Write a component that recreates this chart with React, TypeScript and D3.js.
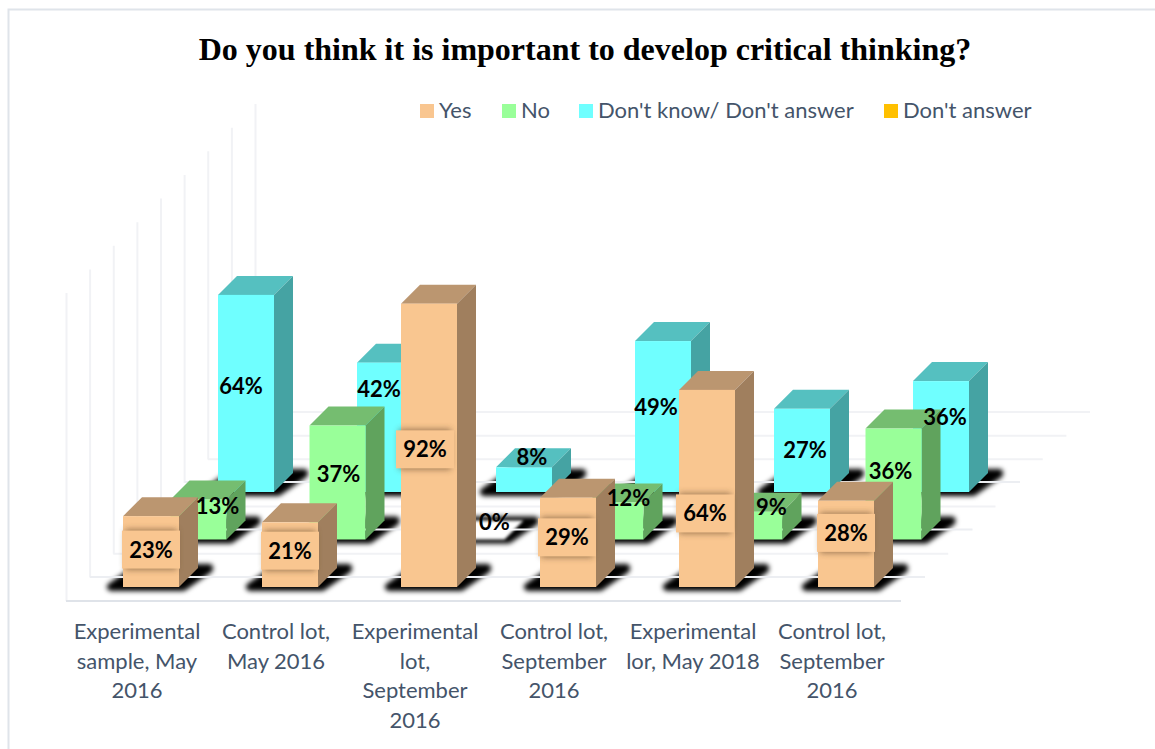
import React from "react";
import * as d3 from "d3";

// Survey answers per group, in percent
const categories: string[][] = [
  ["Experimental", "sample, May", "2016"],
  ["Control lot,", "May 2016"],
  ["Experimental", "lot,", "September", "2016"],
  ["Control lot,", "September", "2016"],
  ["Experimental", "lor, May 2018"],
  ["Control lot,", "September", "2016"],
];
const yesValues = [23, 21, 92, 29, 64, 28];
const noValues = [13, 37, 0, 12, 9, 36];
const unknownValues = [64, 42, 8, 49, 27, 36];
const legendNames = ["Yes", "No", "Don't know/ Don't answer", "Don't answer"];

// Label offsets from the centre of each bar's front face
const yesLabelShift = [[0, -2], [0, -4], [-4, 4], [-1, -5], [-2, 25], [0, -11]];
const noLabelShift = [[19, -13], [1, -9], [18, -18], [13, -23], [17, -19], [-3, -13]];
const unknownLabelShift = [[-5, -7], [-6, -38], [8, -23], [-7, -10], [3, 0], [4, -20]];

const palette = {
  yes: { front: "#f9c690", top: "#bb9670", side: "#a07f5e" },
  no: { front: "#99ff99", top: "#75bd70", side: "#60a35d" },
  unknown: { front: "#6fffff", top: "#55c0c0", side: "#45a3a3" },
};

const rows = [
  { key: "unknown", values: unknownValues, colors: palette.unknown, shift: unknownLabelShift, boxed: false },
  { key: "no", values: noValues, colors: palette.no, shift: noLabelShift, boxed: false },
  { key: "yes", values: yesValues, colors: palette.yes, shift: yesLabelShift, boxed: true },
];

const BAR_W = 56;
const DEPTH = 19;
const BASE_Y = 587;

const xScale = d3.scalePoint<number>().domain(d3.range(6)).range([123, 818]);
const rowScale = d3.scalePoint<string>().domain(["yes", "no", "unknown"]).range([0, 95]);
const heightScale = d3.scaleLinear().domain([0, 100]).range([0, 308]);
const gridIndex = d3.scaleLinear().domain([0, 8]).range([0, 189]);

const pts = (p: number[][]) => p.map((q) => q.join(",")).join(" ");

const labelFont = "Lato, 'Noto Sans', sans-serif";

// Soft, rounded floor shadow following the bar's footprint
function Shadow({ x, base }: { x: number; base: number }) {
  return (
    <polygon
      points={pts([
        [x - 12, base],
        [x + BAR_W + 4, base],
        [x + BAR_W + DEPTH + 11, base - DEPTH + 1],
        [x + BAR_W + DEPTH + 11, base - DEPTH],
        [x + DEPTH - 4, base - DEPTH],
      ])}
      fill="#000"
      stroke="#000"
      strokeWidth={8}
      strokeLinejoin="round"
      filter="url(#floorHaze)"
    />
  );
}

function Bar({ x, base, value, colors }: { x: number; base: number; value: number; colors: { front: string; top: string; side: string } }) {
  const h = heightScale(value);
  const top = base - h;
  if (value === 0) {
    // An empty bar leaves only its pale footprint inside the shadow
    return (
      <polygon
        fill="#fff"
        filter="url(#softEdge)"
        points={pts([
          [x, base],
          [x + BAR_W, base],
          [x + BAR_W + DEPTH, base - DEPTH],
          [x + DEPTH, base - DEPTH],
        ])}
      />
    );
  }
  return (
    <g>
      <polygon
        fill={colors.top}
        points={pts([
          [x, top],
          [x + BAR_W, top],
          [x + BAR_W + DEPTH, top - DEPTH],
          [x + DEPTH, top - DEPTH],
        ])}
      />
      <polygon
        fill={colors.side}
        points={pts([
          [x + BAR_W, top],
          [x + BAR_W + DEPTH, top - DEPTH],
          [x + BAR_W + DEPTH, base - DEPTH],
          [x + BAR_W, base],
        ])}
      />
      <rect x={x} y={top} width={BAR_W} height={h} fill={colors.front} />
    </g>
  );
}

export default function App() {
  const legendItems = [
    { x: 420, tx: 439, color: palette.yes.front },
    { x: 502, tx: 521, color: palette.no.front },
    { x: 579, tx: 598, color: palette.unknown.front },
    { x: 884, tx: 903, color: "#ffc000" },
  ];
  return (
    <svg
      width={1155}
      height={749}
      style={{ position: "absolute", left: 0, top: 0, background: "#fff" }}
    >
      <defs>
        <filter id="floorHaze" filterUnits="userSpaceOnUse" x="0" y="0" width="1155" height="749">
          <feGaussianBlur stdDeviation="2.6" />
        </filter>
        <filter id="softEdge" x="-10%" y="-20%" width="120%" height="140%">
          <feGaussianBlur stdDeviation="1.5" />
        </filter>
        <filter id="boxShadow" x="-30%" y="-60%" width="160%" height="220%">
          <feGaussianBlur stdDeviation="3" />
        </filter>
      </defs>

      {/* Frame */}
      <path d="M1155 9.5H8.5V749" fill="none" stroke="#dfe4ea" strokeWidth={2} />

      <text
        x={585}
        y={59.5}
        textAnchor="middle"
        fontFamily="'Liberation Serif', serif"
        fontWeight="bold"
        fontSize={32}
        fill="#000"
      >
        Do you think it is important to develop critical thinking?
      </text>

      {/* Legend */}
      {legendNames.map((name, i) => (
        <g key={name}>
          <rect x={legendItems[i].x} y={104} width={14} height={14} fill={legendItems[i].color} />
          <text x={legendItems[i].tx} y={118} fontFamily={labelFont} fontSize={22} fill="#44546a">
            {name}
          </text>
        </g>
      ))}

      {/* Side wall and floor grid */}
      {d3.range(9).map((i) => {
        const d = gridIndex(i);
        const isFront = i === 0;
        const isRowLine = i === 1 || i === 3 || i === 5;
        return (
          <g key={i}>
            <line x1={66.5 + d} x2={66.5 + d} y1={601 - d} y2={601 - d - heightScale(100)} stroke="#f1f2f5" strokeWidth={2} />
            {!isRowLine && (
              <line x1={66 + d} x2={901 + d} y1={601 - d} y2={601 - d} stroke={isFront ? "#dfe3e9" : "#f1f2f5"} strokeWidth={2} />
            )}
          </g>
        );
      })}

      {/* Bars, back row to front row, each over its own floor shadow */}
      {rows.map((row) => {
        const offset = rowScale(row.key)!;
        const base = BASE_Y - offset;
        const lineY = base - 10;
        const lineX = 66 + (601 - lineY);
        return (
          <g key={row.key}>
            {row.values.map((_, i) => (
              <Shadow key={i} x={xScale(i)! + offset} base={base} />
            ))}
            <line x1={lineX} x2={lineX + 835} y1={lineY} y2={lineY} stroke="#eceef2" strokeWidth={2} />
            {row.values.map((v, i) => (
              <Bar key={i} x={xScale(i)! + offset} base={base} value={v} colors={row.colors} />
            ))}
          </g>
        );
      })}

      {/* Data labels */}
      {rows.map((row) => {
        const offset = rowScale(row.key)!;
        const base = BASE_Y - offset;
        return row.values.map((v, i) => {
          const cx = xScale(i)! + offset + BAR_W / 2 + row.shift[i][0];
          const cy = base - heightScale(v) / 2 + row.shift[i][1];
          return (
            <g key={row.key + i}>
              {row.boxed && (
                <>
                  <rect x={cx - 26} y={cy - 20} width={52} height={40} fill="#5a4028" opacity={0.6} filter="url(#boxShadow)" />
                  <rect x={cx - 29} y={cy - 19} width={58} height={38} fill={row.colors.front} />
                </>
              )}
              <text x={cx} y={cy + 8} textAnchor="middle" fontFamily={labelFont} fontWeight="bold" fontSize={22} fill="#000">
                {v}%
              </text>
            </g>
          );
        });
      })}

      {/* Category labels */}
      {categories.map((lines, i) => (
        <text key={i} textAnchor="middle" fontFamily={labelFont} fontSize={22} fill="#44546a">
          {lines.map((line, j) => (
            <tspan key={j} x={xScale(i)! + 14} y={639 + j * 29.5}>
              {line}
            </tspan>
          ))}
        </text>
      ))}
    </svg>
  );
}
